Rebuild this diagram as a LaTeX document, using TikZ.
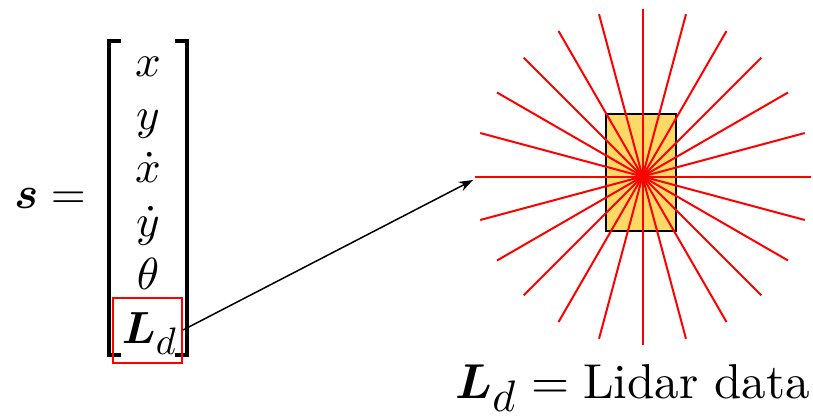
\documentclass[tikz,border=0pt]{standalone}
\usepackage{graphicx}
\usepackage{bm}
\usetikzlibrary{arrows.meta}
\definecolor{carfill}{RGB}{255,217,102}
\newcommand{\entry}[1]{\scalebox{2.25}{$#1$}}
\newcommand{\lbltext}[1]{\scalebox{2.45}{$#1$}}
\tikzset{
  big/.style={inner sep=0pt},
  brack/.style={line width=1.6pt},
  ray/.style={red, line width=1pt},
}
\begin{document}
\begin{tikzpicture}[x=0.5pt,y=-0.5pt]
\useasboundingbox (0,0) rectangle (813,419);
% state vector
\node[big, anchor=base west] (s) at (14,208) {\entry{\bm{s} =}};
\node[big, anchor=base] (e1) at (148,76) {\entry{x}};
\node[big, anchor=base] (e2) at (148,129.4) {\entry{y}};
\node[big, anchor=base] (e3) at (148,182.8) {\entry{\dot{x}}};
\node[big, anchor=base] (e4) at (148,236.2) {\entry{\dot{y}}};
\node[big, anchor=base] (e5) at (148,289.6) {\entry{\theta}};
\node[big, anchor=base] (e6) at (150,343) {\entry{\bm{L}_{\scalebox{0.85}{$d$}}}};
\draw[brack] (121,41) -- (109,41) -- (109,355) -- (121,355);
\draw[brack] (175,41) -- (187,41) -- (187,355) -- (175,355);
\node[draw=red, line width=1pt, minimum width=34.5pt, minimum height=32.5pt, inner sep=0pt] (ldbox) at (147.5,330) {};
% lidar
\node[draw=black, fill=carfill, line width=1pt, minimum width=35pt, minimum height=58.5pt, inner sep=0pt] (car) at (641,172) {};
\coordinate (lidar) at (642.5,176.5);
\foreach \a in {0,15,...,345} \draw[ray] (lidar) -- ++(\a:84pt);
\coordinate (target) at (473,180);
\draw[line width=0.75pt, -{Stealth[length=7pt,width=5pt]}] (ldbox.east) -- (target);
\node[big, anchor=base west] (lbl) at (455,398) {\lbltext{\bm{L}_{\scalebox{0.9}{$d$}} = \mbox{Lidar data}}};
\end{tikzpicture}
\end{document}
